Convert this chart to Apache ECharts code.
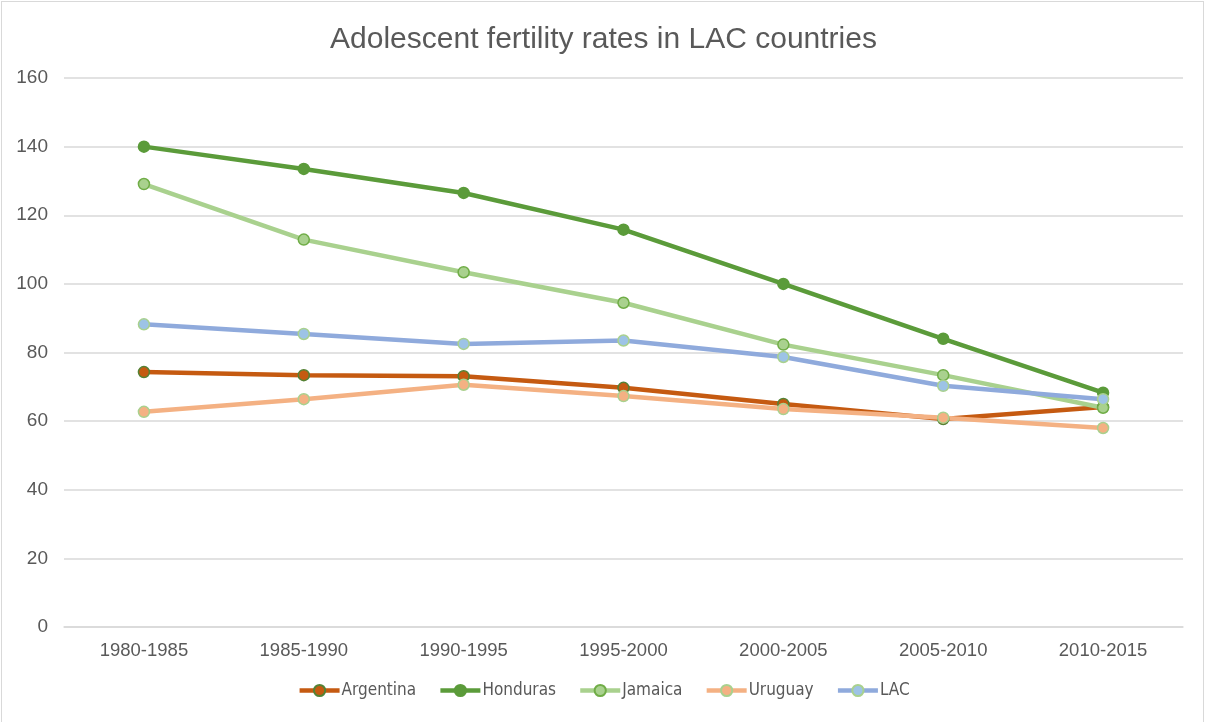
<!DOCTYPE html>
<html>
<head>
<meta charset="utf-8">
<script src="https://cdn.jsdelivr.net/npm/echarts@6/dist/echarts.min.js"></script>
<style>
html,body{margin:0;padding:0;background:#fff;}
#frame{position:absolute;left:1px;top:1px;width:1203px;height:730px;border:1px solid #d9d9d9;box-sizing:border-box;}
#chart{position:absolute;left:0;top:0;width:1207px;height:722px;}
</style>
</head>
<body>
<div id="frame"></div>
<div id="chart"></div>
<script>
const categories = ['1980-1985','1985-1990','1990-1995','1995-2000','2000-2005','2005-2010','2010-2015'];
const argentina = [74.3, 73.4, 73.1, 69.7, 65.0, 60.6, 64.1];
const honduras  = [140.0, 133.5, 126.5, 115.8, 100.0, 84.0, 68.3];
const jamaica   = [129.1, 112.9, 103.4, 94.5, 82.3, 73.4, 63.9];
const uruguay   = [62.7, 66.4, 70.6, 67.3, 63.5, 61.0, 58.0];
const lac       = [88.2, 85.4, 82.5, 83.5, 78.7, 70.3, 66.4];
const yTicks = {min: 0, max: 160, interval: 20};

function mk(name, data, color, fill, border) {
  return {
    name: name, type: 'line', data: data,
    symbol: 'circle', symbolSize: 11,
    lineStyle: {color: color, width: 4.5},
    itemStyle: {color: fill, borderColor: border, borderWidth: 1.5},
    emphasis: {disabled: true}
  };
}

const chart = echarts.init(document.getElementById('chart'));
chart.setOption({
  animation: false,
  title: {
    text: 'Adolescent fertility rates in LAC countries',
    left: 'center', top: 20,
    textStyle: {fontFamily: 'Liberation Sans, Arial, sans-serif', fontSize: 30, fontWeight: 'normal', color: '#595959'}
  },
  grid: {left: 64, right: 24, top: 78, bottom: 95, containLabel: false},
  legend: {
    bottom: 18, left: 'center', itemWidth: 40, itemHeight: 14, itemGap: 22,
    lineStyle: {width: 4.5},
    textStyle: {fontFamily: 'Liberation Sans Narrow, DejaVu Sans Condensed, sans-serif', fontSize: 17, color: '#595959', padding: [0, 0, 0, -3]},
    data: ['Argentina','Honduras','Jamaica','Uruguay','LAC']
  },
  xAxis: {
    type: 'category', data: categories, boundaryGap: true,
    axisLine: {show: true, lineStyle: {color: '#d9d9d9', width: 1.5}},
    axisTick: {show: false},
    axisLabel: {margin: 14, fontFamily: 'Liberation Sans, Arial, sans-serif', fontSize: 18.5, color: '#595959'}
  },
  yAxis: {
    type: 'value', min: yTicks.min, max: yTicks.max, interval: yTicks.interval,
    axisLine: {show: false}, axisTick: {show: false},
    splitLine: {lineStyle: {color: '#d9d9d9', width: 1.5}},
    axisLabel: {margin: 16, fontFamily: 'Liberation Sans, Arial, sans-serif', fontSize: 19, color: '#595959'}
  },
  series: [
    mk('Argentina', argentina, '#c55a11', '#c55a11', '#548235'),
    mk('Honduras', honduras, '#5b9b3a', '#5b9b3a', '#5b9b3a'),
    mk('Jamaica', jamaica, '#a9d18e', '#a9d18e', '#70ad47'),
    mk('Uruguay', uruguay, '#f4b183', '#f4b183', '#a9d18e'),
    mk('LAC', lac, '#8faadc', '#9dc3e6', '#a9d18e')
  ]
});
</script>
</body>
</html>
